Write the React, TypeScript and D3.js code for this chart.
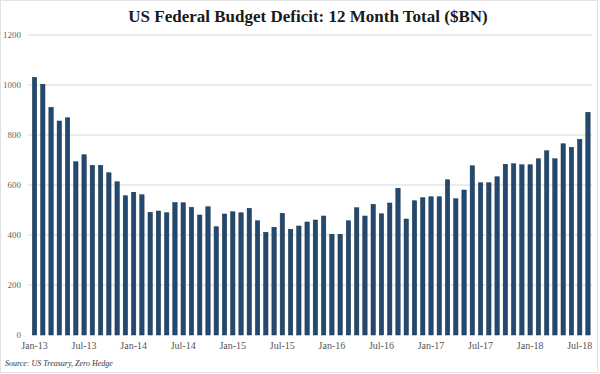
import React, { useEffect, useRef } from "react"
import * as d3 from "d3"

const WIDTH = 600
const HEIGHT = 374

const TITLE = "US Federal Budget Deficit: 12 Month Total ($BN)"
const SOURCE = "Source: US Treasury, Zero Hedge"

const MONTHS = [
  "Jan-13", "Feb-13", "Mar-13", "Apr-13", "May-13", "Jun-13", "Jul-13", "Aug-13", "Sep-13", "Oct-13", "Nov-13", "Dec-13",
  "Jan-14", "Feb-14", "Mar-14", "Apr-14", "May-14", "Jun-14", "Jul-14", "Aug-14", "Sep-14", "Oct-14", "Nov-14", "Dec-14",
  "Jan-15", "Feb-15", "Mar-15", "Apr-15", "May-15", "Jun-15", "Jul-15", "Aug-15", "Sep-15", "Oct-15", "Nov-15", "Dec-15",
  "Jan-16", "Feb-16", "Mar-16", "Apr-16", "May-16", "Jun-16", "Jul-16", "Aug-16", "Sep-16", "Oct-16", "Nov-16", "Dec-16",
  "Jan-17", "Feb-17", "Mar-17", "Apr-17", "May-17", "Jun-17", "Jul-17", "Aug-17", "Sep-17", "Oct-17", "Nov-17", "Dec-17",
  "Jan-18", "Feb-18", "Mar-18", "Apr-18", "May-18", "Jun-18", "Jul-18", "Aug-18",
]

// 12 month rolling deficit, $BN
const DEFICIT = [
  1031, 1003, 911, 856, 869, 693, 721, 679, 679, 649, 613, 557,
  571, 561, 491, 496, 489, 530, 529, 511, 480, 513, 433, 484,
  493, 489, 507, 457, 411, 431, 487, 423, 436, 452, 460, 476,
  403, 403, 457, 509, 476, 523, 485, 528, 587, 464, 537, 549,
  553, 553, 621, 545, 580, 677, 609, 609, 633, 683, 685, 681,
  681, 705, 737, 705, 765, 751, 783, 891,
]

const X_TICKS = ["Jan-13", "Jul-13", "Jan-14", "Jul-14", "Jan-15", "Jul-15", "Jan-16", "Jul-16", "Jan-17", "Jul-17", "Jan-18", "Jul-18"]
const Y_TICKS = [0, 200, 400, 600, 800, 1000, 1200]

const BAR_COLOR = "#24496f"

const App = () => {
  const svgRef = useRef<SVGSVGElement>(null)

  useEffect(() => {
    if (!svgRef.current) return
    const svg = d3.select(svgRef.current)
    svg.selectAll("*").remove()

    const plot = { left: 30.4, right: 592.1, top: 35, bottom: 335 }

    const x = d3
      .scaleBand<string>()
      .domain(MONTHS)
      .range([plot.left, plot.right])
      .paddingInner(0.47)
      .paddingOuter(0.235)

    const y = d3.scaleLinear().domain([0, 1200]).range([plot.bottom, plot.top])

    // outer frame
    svg.append("rect")
      .attr("x", 0.5)
      .attr("y", 0.5)
      .attr("width", WIDTH - 3)
      .attr("height", HEIGHT - 2)
      .attr("fill", "#fff")
      .attr("stroke", "#e2e2e2")

    svg.append("text")
      .attr("x", 308)
      .attr("y", 22)
      .attr("text-anchor", "middle")
      .style("font-family", "'Liberation Serif', serif")
      .style("font-size", "17px")
      .style("font-weight", "bold")
      .style("fill", "#1a1a1a")
      .text(TITLE)

    // gridlines
    svg.append("g")
      .selectAll("line")
      .data(Y_TICKS.filter((d) => d > 0))
      .join("line")
      .attr("x1", 28)
      .attr("x2", 592)
      .attr("y1", (d) => y(d))
      .attr("y2", (d) => y(d))
      .attr("stroke", "#e6e6e6")
      .attr("stroke-width", 1.5)

    // y labels
    svg.append("g")
      .selectAll("text")
      .data(Y_TICKS)
      .join("text")
      .attr("x", 21)
      .attr("y", (d) => y(d) + 3)
      .attr("text-anchor", "end")
      .style("font-family", "'Liberation Serif', serif")
      .style("font-size", "9px")
      .style("fill", "#666")
      .text((d) => d)

    // bars
    svg.append("g")
      .selectAll("rect")
      .data(DEFICIT)
      .join("rect")
      .attr("x", (_, i) => x(MONTHS[i]) as number)
      .attr("y", (d) => y(d))
      .attr("width", x.bandwidth())
      .attr("height", (d) => y(0) - y(d))
      .attr("fill", BAR_COLOR)
      .attr("stroke", "#17324f")
      .attr("stroke-width", 0.5)

    // x labels
    svg.append("g")
      .selectAll("text")
      .data(X_TICKS)
      .join("text")
      .attr("x", (d) => (x(d) as number) + x.bandwidth() / 2)
      .attr("y", 349)
      .attr("text-anchor", "middle")
      .style("font-family", "'Liberation Serif', serif")
      .style("font-size", "10px")
      .style("fill", "#555")
      .text((d) => d)

    svg.append("text")
      .attr("x", 5)
      .attr("y", 366)
      .style("font-family", "'Liberation Serif', serif")
      .style("font-size", "8px")
      .style("font-style", "italic")
      .style("fill", "#333")
      .text(SOURCE)
  }, [])

  return (
    <svg
      ref={svgRef}
      width={WIDTH}
      height={HEIGHT}
      style={{ position: "absolute", left: 0, top: 0, display: "block", background: "#fff" }}
    ></svg>
  )
}

export default App
